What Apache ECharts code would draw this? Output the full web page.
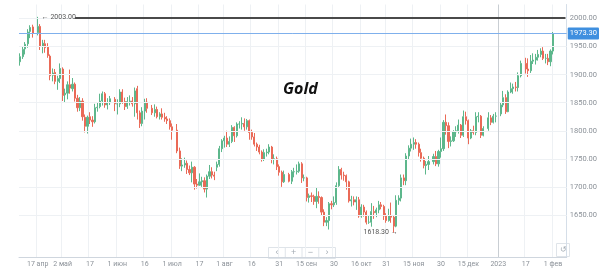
<!DOCTYPE html>
<html>
<head>
<meta charset="utf-8">
<script src="https://cdn.jsdelivr.net/npm/echarts@6/dist/echarts.min.js"></script>
<style>
html,body{margin:0;padding:0;background:#fff;}
#chart{width:600px;height:271px;}
</style>
</head>
<body>
<div id="chart"></div>
<script>
// ---- categories: trading weekdays (calendar slots) ----
const startDate = '2022-04-07';
const endDate = '2023-02-08';

// ---- daily candles [open, close, low, high]; null = market closed ----
const ohlc = [
  // Apr 7-8
  [1923,1932,1916,1938],[1932,1945,1928,1950],
  // Apr 11
  [1946,1954,1936,1958],[1955,1976,1948,1981],[1977,1984,1965,1988],[1985,1974,1966,1989],null,
  // Apr 18
  [1975,1986,1970,2003],[1986,1950,1944,1990],[1950,1956,1938,1962],[1955,1948,1939,1962],[1949,1934,1930,1956],
  // Apr 25
  [1933,1898,1890,1936],[1899,1903,1888,1911],[1904,1888,1883,1910],[1888,1893,1873,1898],[1893,1911,1885,1920],
  // May 2
  [1910,1863,1853,1913],[1864,1867,1850,1875],[1867,1882,1856,1888],[1882,1876,1866,1909],[1875,1883,1870,1894],
  // May 9
  [1883,1858,1852,1886],[1858,1841,1834,1864],[1841,1853,1835,1860],[1853,1825,1818,1858],[1824,1808,1797,1829],
  // May 16
  [1808,1824,1795,1827],[1825,1819,1812,1833],[1819,1816,1807,1826],[1816,1841,1813,1848],[1841,1842,1834,1850],
  // May 23
  [1843,1853,1840,1866],[1853,1866,1845,1870],[1866,1846,1841,1869],[1846,1850,1838,1858],[1850,1857,1846,1862],
  // May 30
  null,[1856,1848,1835,1860],[1848,1848,1829,1856],[1848,1869,1842,1874],[1869,1851,1848,1874],
  // Jun 6
  [1852,1843,1837,1859],[1843,1852,1839,1860],[1852,1853,1845,1863],[1853,1848,1843,1860],[1848,1871,1825,1877],
  // Jun 13
  [1875,1832,1820,1880],[1832,1813,1805,1836],[1813,1835,1808,1842],[1835,1851,1820,1857],[1851,1840,1832,1858],
  // Jun 20
  null,[1840,1832,1828,1846],[1832,1838,1825,1847],[1838,1825,1822,1843],[1825,1830,1820,1833],
  // Jun 27
  [1830,1824,1820,1840],[1824,1821,1816,1832],[1821,1818,1812,1826],[1818,1807,1802,1822],[1807,1801,1784,1813],
  // Jul 4
  null,[1801,1764,1760,1812],[1764,1737,1732,1770],[1737,1739,1728,1751],[1739,1742,1734,1752],
  // Jul 11
  [1742,1731,1723,1747],[1731,1725,1721,1738],[1725,1735,1708,1745],[1735,1705,1695,1737],[1705,1703,1697,1714],
  // Jul 18
  [1703,1709,1702,1724],[1709,1711,1700,1718],[1711,1696,1690,1717],[1696,1719,1681,1722],[1719,1727,1714,1739],
  // Jul 25
  [1727,1721,1715,1735],[1721,1719,1712,1727],[1735,1740,1728,1745],[1740,1768,1736,1773],[1768,1782,1762,1785],
  // Aug 1
  [1782,1787,1770,1791],[1787,1776,1771,1800],[1776,1781,1771,1790],[1781,1806,1778,1810],[1806,1791,1780,1808],
  // Aug 8
  [1791,1812,1788,1815],[1812,1812,1804,1817],[1812,1813,1802,1824],[1813,1807,1800,1822],[1807,1818,1802,1821],
  // Aug 15
  [1818,1797,1784,1820],[1797,1789,1784,1802],[1789,1776,1772,1796],[1776,1771,1764,1779],[1771,1762,1758,1775],
  // Aug 22
  [1762,1749,1745,1765],[1749,1761,1746,1767],[1761,1762,1754,1768],[1762,1771,1758,1776],[1771,1749,1742,1773],
  // Aug 29
  [1749,1750,1740,1758],[1750,1736,1730,1754],[1736,1726,1720,1740],[1726,1709,1700,1729],[1709,1722,1707,1729],
  // Sep 5
  null,[1722,1710,1708,1725],[1710,1727,1705,1730],[1727,1727,1717,1734],[1727,1728,1722,1740],
  // Sep 12
  [1728,1741,1725,1745],[1741,1716,1707,1744],[1716,1716,1710,1722],[1716,1681,1674,1718],[1681,1684,1672,1688],
  // Sep 19
  [1684,1683,1673,1690],[1683,1674,1668,1686],[1674,1683,1662,1698],[1683,1681,1670,1692],[1681,1655,1649,1683],
  // Sep 26
  [1655,1637,1630,1660],[1637,1640,1630,1646],[1640,1670,1624,1673],[1670,1668,1660,1675],[1668,1672,1664,1683],
  // Oct 3
  [1672,1702,1668,1708],[1702,1731,1700,1737],[1731,1721,1713,1734],[1721,1720,1711,1727],[1720,1709,1695,1722],
  // Oct 10
  [1709,1675,1672,1711],[1675,1677,1665,1684],[1677,1673,1667,1683],[1673,1677,1659,1683],[1677,1648,1645,1682],
  // Oct 17
  [1648,1664,1645,1669],[1664,1655,1647,1668],[1655,1637,1633,1658],[1637,1637,1634,1649],[1637,1656,1629,1671],
  // Oct 24
  [1656,1654,1643,1666],[1654,1659,1646,1663],[1659,1668,1653,1675],[1668,1665,1660,1673],[1665,1648,1641,1668],
  // Oct 31
  [1648,1640,1636,1653],[1640,1649,1638,1661],[1649,1646,1636,1672],[1646,1630,1618.3,1648],[1630,1676,1628,1685],
  // Nov 7
  [1676,1680,1668,1685],[1680,1716,1674,1722],[1716,1711,1703,1722],[1711,1755,1703,1760],[1755,1769,1748,1774],
  // Nov 14
  [1769,1776,1763,1786],[1776,1779,1766,1788],[1779,1776,1768,1785],[1776,1761,1754,1779],[1761,1751,1745,1768],
  // Nov 21
  [1751,1738,1733,1754],[1738,1740,1722,1746],[1740,1745,1730,1755],null,[1745,1754,1740,1759],
  // Nov 28
  [1754,1741,1737,1764],[1741,1763,1736,1766],[1763,1768,1752,1788],[1768,1815,1764,1819],[1815,1809,1793,1829],
  // Dec 5
  [1809,1781,1769,1815],[1781,1782,1772,1790],[1782,1798,1780,1801],[1798,1800,1789,1808],[1800,1810,1795,1820],
  // Dec 12
  [1810,1792,1787,1812],[1792,1825,1789,1836],[1825,1818,1811,1834],[1818,1787,1776,1820],[1787,1800,1785,1803],
  // Dec 19
  [1800,1797,1793,1809],[1797,1825,1792,1833],[1825,1826,1815,1833],[1826,1792,1787,1828],[1792,1804,1790,1808],
  // Dec 26
  null,[1804,1823,1800,1833],[1823,1815,1810,1828],[1815,1826,1813,1830],[1826,1826,1815,1833],
  // Jan 2
  null,[1830,1846,1826,1850],[1846,1859,1842,1871],[1859,1834,1830,1865],[1834,1869,1833,1872],
  // Jan 9
  [1869,1875,1867,1886],[1875,1878,1866,1884],[1878,1877,1870,1887],[1877,1898,1870,1904],[1898,1920,1895,1925],
  // Jan 16
  null,[1920,1910,1902,1930],[1910,1907,1896,1929],[1907,1924,1903,1935],[1924,1926,1919,1938],
  // Jan 23
  [1926,1931,1918,1937],[1931,1936,1925,1944],[1936,1942,1931,1947],[1942,1929,1926,1949],[1929,1929,1920,1937],
  // Jan 30
  [1929,1923,1917,1937],[1923,1942,1915,1945],[1942,1973.3,1936,1976]
];

// ---- axis ticks ----
const tickDates = ['2022-04-18','2022-05-02','2022-05-17','2022-06-01','2022-06-16','2022-07-01','2022-07-18',
  '2022-08-01','2022-08-16','2022-08-31','2022-09-15','2022-09-30','2022-10-17','2022-10-31','2022-11-15',
  '2022-11-30','2022-12-15','2023-01-02','2023-01-17','2023-02-01'];
const tickLabels = ['17 апр','2 май','17','1 июн','16','1 июл','17','1 авг','16','31','15 сен','30','16 окт',
  '31','15 ноя','30','15 дек','2023','17','1 фев'];
const yTicks = [1650,1700,1750,1800,1850,1900,1950,2000];

// ---- annotations ----
const lastPrice = 1973.30;
const highPoint = {date:'2022-04-18', value:2003.00};
const lowPoint = {date:'2022-11-03', value:1618.30};
const levelLine = {from:'2022-05-09', to:'2023-02-08', value:2001};
const yearDate = '2023-01-02';
const title = 'Gold';

// build category list (weekdays)
const dates = [];
{
  let t = Date.parse(startDate + 'T00:00:00Z');
  const tEnd = Date.parse(endDate + 'T00:00:00Z');
  while (t <= tEnd) {
    const d = new Date(t);
    const wd = d.getUTCDay();
    if (wd !== 0 && wd !== 6) dates.push(d.toISOString().slice(0,10));
    t += 86400000;
  }
}
const seriesData = dates.map((d, i) => (i < ohlc.length && ohlc[i]) ? ohlc[i] : '-');
const labelMap = {};
tickDates.forEach((d, i) => labelMap[d] = tickLabels[i]);

const chart = echarts.init(document.getElementById('chart'), null, {renderer:'canvas'});
const UP = '#5db78c', DOWN = '#ea6a57';
const option = {
  animation: false,
  backgroundColor: '#ffffff',
  title: {
    text: title, left: 278, top: 76,
    textStyle: {fontSize: 16, fontStyle: 'italic', fontWeight: 'bold', color: '#111', fontFamily: 'Open Sans'}
  },
  grid: {left: 19, right: 31, top: 4.5, bottom: 14},
  xAxis: {
    type: 'category', data: dates, boundaryGap: true,
    axisLine: {show: true, lineStyle: {color: '#cfd6de', width: 1}},
    axisTick: {show: false},
    axisLabel: {
      interval: (i, v) => labelMap[v] !== undefined,
      formatter: v => labelMap[v] || '',
      color: '#8b9198', fontSize: 7, margin: 4, fontFamily: 'Roboto'
    },
    splitLine: {show: true, interval: (i, v) => labelMap[v] !== undefined && v !== yearDate,
      lineStyle: {color: '#eef1f4', width: 1}}
  },
  yAxis: {
    type: 'value', position: 'right', min: 1575, max: 2025, interval: 25, scale: true,
    axisLine: {show: true, lineStyle: {color: '#d5dee8'}},
    axisTick: {show: false},
    splitLine: {show: false},
    axisLabel: {
      formatter: v => (yTicks.indexOf(v) >= 0 ? v.toFixed(2) : ''),
      color: '#8b9198', fontSize: 7.5, margin: 3, fontFamily: 'Roboto'
    }
  },
  series: [
    {
      type: 'line', data: dates.map(() => '-'), z: 1, silent: true, symbol: 'none',
      markLine: {
        silent: true, symbol: 'none', label: {show: false}, animation: false,
        lineStyle: {color: '#eef1f4', type: 'solid', width: 1},
        data: yTicks.map(v => ({yAxis: v})).concat([
          {xAxis: yearDate, lineStyle: {color: '#c9ced3', type: 'solid', width: 1}}
        ])
      }
    },
    {
      type: 'candlestick', data: seriesData, z: 3, barWidth: '65%',
      itemStyle: {color: UP, color0: DOWN, borderColor: UP, borderColor0: DOWN, borderWidth: 1},
      markLine: {
        silent: true, symbol: 'none', animation: false,
        data: [
          {yAxis: lastPrice,
            lineStyle: {color: '#7fb0ec', type: 'solid', width: 1},
            label: {show: true, position: 'end', distance: 1, formatter: lastPrice.toFixed(2),
              backgroundColor: '#3f8fdf', color: '#fff', fontSize: 7.5, padding: [2, 2, 2, 2],
              fontFamily: 'Roboto', borderRadius: 1}},
          [
            {coord: [levelLine.from, levelLine.value], lineStyle: {color: '#4a4a4a', type: 'solid', width: 2},
              label: {show: false}},
            {coord: [levelLine.to, levelLine.value]}
          ]
        ]
      },
      markPoint: {
        silent: true, animation: false, symbol: 'circle', symbolSize: 0,
        itemStyle: {color: 'rgba(0,0,0,0)'},
        data: [
          {coord: [highPoint.date, highPoint.value],
            label: {show: true, position: 'right', distance: 4, formatter: '← ' + highPoint.value.toFixed(2),
              color: '#555', fontSize: 7, fontFamily: 'Roboto'}},
          {coord: [lowPoint.date, lowPoint.value],
            label: {show: true, position: 'left', distance: 1, offset: [5, 0], formatter: lowPoint.value.toFixed(2) + ' →',
              color: '#555', fontSize: 7, fontFamily: 'Roboto'}}
        ]
      }
    }
  ],
  graphic: [
    {type: 'group', left: 268, top: 245, children: [
      {type: 'rect', shape: {x: 0, y: 0, width: 67, height: 11}, style: {fill: '#fff', stroke: '#dfe4e9', lineWidth: 1}},
      {type: 'line', shape: {x1: 16.75, y1: 0, x2: 16.75, y2: 11}, style: {stroke: '#dfe4e9'}},
      {type: 'line', shape: {x1: 33.5, y1: 0, x2: 33.5, y2: 11}, style: {stroke: '#dfe4e9'}},
      {type: 'line', shape: {x1: 50.25, y1: 0, x2: 50.25, y2: 11}, style: {stroke: '#dfe4e9'}},
      {type: 'text', x: 8.4, y: 5.5, style: {text: '‹', fill: '#a3abb3', fontSize: 9, align: 'center', verticalAlign: 'middle'}},
      {type: 'text', x: 25.1, y: 5.5, style: {text: '+', fill: '#a3abb3', fontSize: 9, align: 'center', verticalAlign: 'middle'}},
      {type: 'text', x: 41.9, y: 5.5, style: {text: '−', fill: '#a3abb3', fontSize: 9, align: 'center', verticalAlign: 'middle'}},
      {type: 'text', x: 58.6, y: 5.5, style: {text: '›', fill: '#a3abb3', fontSize: 9, align: 'center', verticalAlign: 'middle'}}
    ]},
    {type: 'group', left: 556, top: 243, children: [
      {type: 'rect', shape: {x: 0, y: 0, width: 13, height: 13}, style: {fill: '#fff', stroke: '#dfe4e9', lineWidth: 1}},
      {type: 'text', x: 6.5, y: 6.5, style: {text: '↺', fill: '#a3abb3', fontSize: 8, align: 'center', verticalAlign: 'middle'}}
    ]}
  ]
};
chart.setOption(option);
</script>
</body>
</html>
